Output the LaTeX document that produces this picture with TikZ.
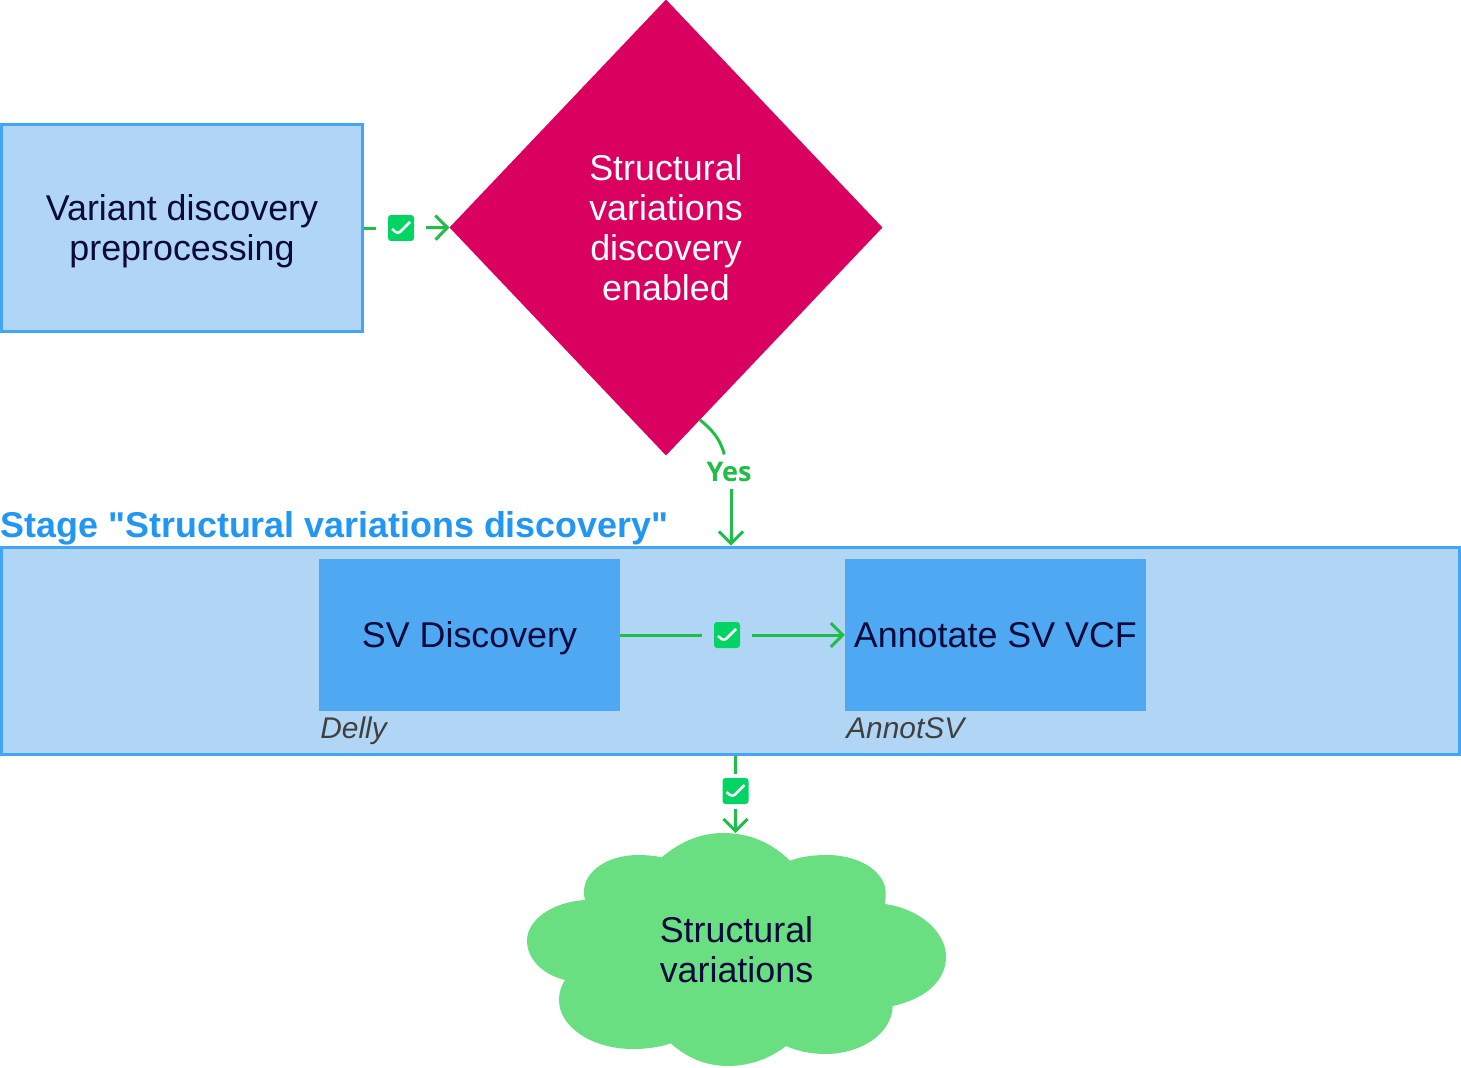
\documentclass[tikz,border=0pt]{standalone}
\usepackage{fontspec}
\setmainfont{Liberation Sans}
\newfontfamily\titlefont{Liberation Sans}
\newfontfamily\yesfont{Open Sans}
\usepackage{tikz}
\usetikzlibrary{arrows.meta,positioning,shapes.geometric}
\definecolor{stageblue}{HTML}{42A5F5}
\definecolor{stagefill}{HTML}{B1D6F5}
\definecolor{titleblue}{HTML}{2196F3}
\definecolor{taskblue}{HTML}{4FA9F2}
\definecolor{inkblue}{HTML}{0A0A3C}
\definecolor{diamondred}{HTML}{D90060}
\definecolor{cloudgreen}{HTML}{6ADF82}
\definecolor{linkgreen}{HTML}{20BD48}
\definecolor{badgegreen}{HTML}{00D563}
\definecolor{toolgrey}{HTML}{404040}

\begin{document}
\begin{tikzpicture}[
  x=0.02cm,y=-0.02cm,
  font=\fontsize{20.4}{22.76}\selectfont,
  stagebox/.style={draw=stageblue,fill=stagefill,line width=.06cm,text=inkblue,align=center},
  task/.style={fill=taskblue,text=inkblue,minimum width=6.02cm,minimum height=3.04cm,inner sep=0pt,outer sep=0pt,text height=.48cm,text depth=0pt},
  tool/.style={font=\fontsize{17}{20}\selectfont\itshape,text=toolgrey,inner sep=0pt},
  badge/.style={fill=badgegreen,rounded corners=.06cm,minimum size=.52cm,inner sep=0pt,outer xsep=.24cm,outer ysep=.09cm,
    path picture={\draw[white,line width=.05cm,shift={(path picture bounding box.center)}] (-9,1) -- (-3,6) -- (9,-6);}},
  flow/.style={draw=linkgreen,line width=.06cm},
  flowtip/.style={flow,-{Straight Barb[length=.24cm,width=.48cm]}}
]
  \useasboundingbox (0,0) rectangle (1461,1068);
  % top row
  \node[stagebox,minimum width=7.24cm,minimum height=4.16cm,text depth=0pt] (var) at (182,228) {Variant discovery\\preprocessing};
  \node[diamond,fill=diamondred,text=white,align=center,aspect=.95,inner sep=0pt,outer sep=0pt,minimum width=8.66cm,minimum height=9.12cm] (dia) at (666,227.5) {Structural\\variations\\discovery\\enabled};
  \node[badge] (b1) at (401,228) {};
  \draw[flow] (var.east) -- (b1);
  \draw[flowtip] (b1) -- (dia.west);
  % stage
  \node[stagebox,minimum width=29.18cm,minimum height=4.16cm] (stage) at (730.5,651) {};
  \node[above right=0cm and .02cm of stage.north west,inner sep=0pt,font=\fontsize{20.4}{22.76}\titlefont\bfseries,text=titleblue] (title) {Stage "Structural variations discovery"};
  \node[task] (sv) at (469.5,635) {SV Discovery};
  \node[task,right=4.5cm of sv] (ann) {Annotate SV VCF};
  \node[tool,below right=.12cm and .02cm of sv.south west] (delly) {Delly};
  \node[tool,below right=.12cm and .02cm of ann.south west] (annotsv) {AnnotSV};
  \node[badge] (b2) at (727,635) {};
  \draw[flow] (sv.east) -- (b2);
  \draw[flowtip] (b2) -- (ann.west);
  % yes branch
  \node[text=linkgreen,font=\fontsize{15.4}{18}\yesfont\bfseries,minimum height=.7cm,inner sep=0pt,outer sep=0pt] (yes) at (729,472) {Yes};
  \draw[flow] (dia.-80) to[out=-40,in=105] (yes.105);
  \draw[flowtip] ([xshift=.04cm]yes.south) -- ([xshift=.04cm]yes.south |- stage.north);
  % cloud
  \fill[cloudgreen] (661.7,857.3) .. controls (680,842) and (700,833) .. (723,833)
    .. controls (750,833) and (772,843) .. (790,860.7)
    .. controls (800,857) and (812,855) .. (826.7,855)
    .. controls (860,855) and (885.7,872) .. (885.7,893)
    .. controls (885.7,897) and (885.3,900) .. (885,904)
    .. controls (920,909) and (946,932) .. (946,956.7)
    .. controls (946,981) and (925,999) .. (892.7,1006)
    .. controls (892,1033) and (862,1054) .. (825,1054)
    .. controls (811,1054) and (797,1051) .. (786,1046)
    .. controls (771,1058) and (750,1066) .. (728,1066)
    .. controls (705,1066) and (686,1057) .. (670.7,1043.3)
    .. controls (660,1047) and (647,1049) .. (633,1049)
    .. controls (592,1049) and (559,1027) .. (559,1000)
    .. controls (559,993) and (561,986) .. (565,980)
    .. controls (541,974) and (527,958) .. (527,940.7)
    .. controls (527,920) and (552,902) .. (585,900)
    .. controls (584,897) and (584,894) .. (584,891.7)
    .. controls (584,871) and (608,855) .. (638,855)
    .. controls (647,855) and (655,856) .. (661.7,857.3) -- cycle;
  \node[text=inkblue,align=center,minimum width=8.38cm,minimum height=4.66cm,inner sep=0pt,outer sep=0pt] (cloud) at (736.5,949.5) {Structural\\variations};
  \node[badge] (b3) at (735.5,791) {};
  \draw[flow] (b3 |- stage.south) -- (b3);
  \draw[flowtip] (b3) -- (b3 |- cloud.north);
\end{tikzpicture}
\end{document}
